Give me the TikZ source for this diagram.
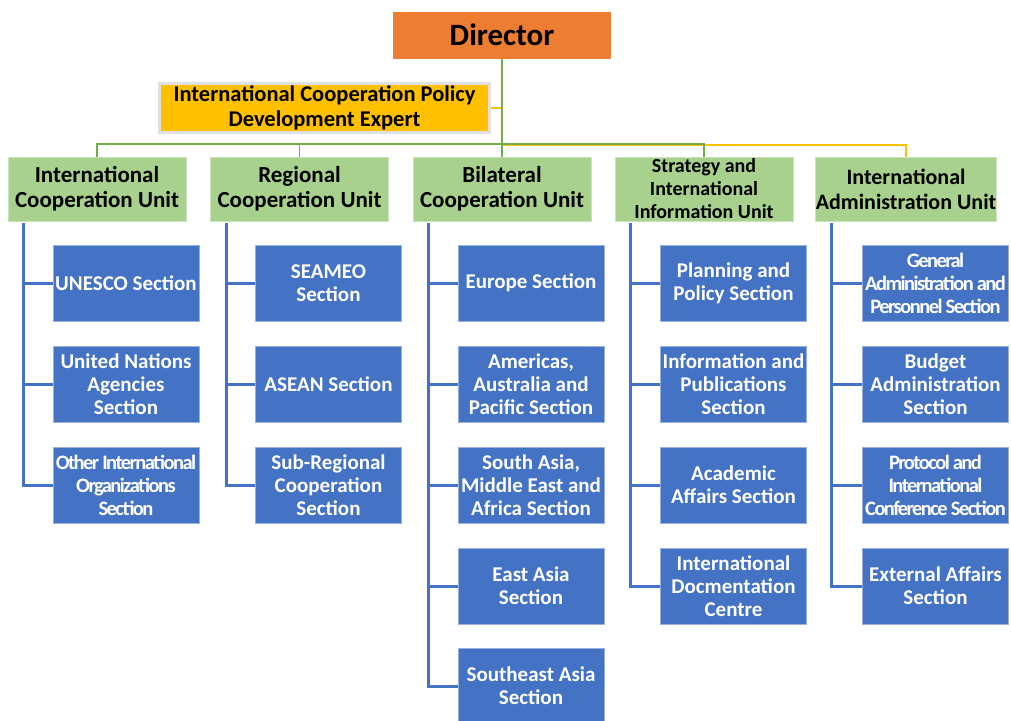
\documentclass[tikz,border=0pt]{standalone}
\usepackage{fontspec}
\setmainfont{Carlito}
\definecolor{dirorange}{HTML}{ED7D31}
\definecolor{expgold}{HTML}{FFC000}
\definecolor{unitgreen}{HTML}{A9D18E}
\definecolor{linegreen}{HTML}{70AD47}
\definecolor{sectblue}{HTML}{4472C4}
\begin{document}
\begin{tikzpicture}[x=1pt,y=-1pt,
dirbox/.style={fill=dirorange, minimum width=218pt, minimum height=47pt, inner sep=0pt, font=\fontsize{31}{33}\selectfont\bfseries},
expbox/.style={fill=expgold, draw=black!12, line width=3pt, minimum width=330pt, minimum height=49pt, inner sep=0pt, align=center, font=\fontsize{22.5}{25}\selectfont\bfseries},
unitbox/.style={fill=unitgreen, draw=unitgreen!60!white, line width=.8pt, minimum width=178pt, minimum height=64pt, inner sep=0pt, align=center, font=\fontsize{23}{25}\selectfont\bfseries},
sectbox/.style={fill=sectblue, draw=sectblue!55!white, line width=.8pt, text=white, minimum width=146pt, minimum height=76pt, inner sep=0pt, align=center, font=\fontsize{21}{23}\selectfont\bfseries},
squeezed/.style={font=\fontsize{20.5}{23}\selectfont\bfseries\addfontfeatures{LetterSpace=-7.5}},
greenline/.style={draw=linegreen, line width=1.8pt},
goldline/.style={draw=expgold, line width=2.2pt},
blueline/.style={draw=sectblue, line width=3pt}]
\useasboundingbox (0,0) rectangle (1011,720);
\node[dirbox] (dir) at (502,35) {Director};
\node[expbox] (exp) at (324.5,108) {International Cooperation Policy\\Development Expert};
\coordinate (hub) at (502,144);
\node[unitbox] (u1) at (97,189) {International\\Cooperation Unit};
\node[unitbox] (u2) at (299.5,189) {Regional\\Cooperation Unit};
\node[unitbox] (u3) at (502,189) {Bilateral\\Cooperation Unit};
\node[unitbox,font=\fontsize{20}{23}\selectfont\bfseries] (u4) at (704,189) {Strategy and\\International\\Information Unit};
\node[unitbox,font=\fontsize{22}{25}\selectfont\bfseries] (u5) at (906,189) {International\\Administration Unit};
\node[sectbox] (s11) at (126,283) {UNESCO Section};
\node[sectbox] (s12) at (126,384) {United Nations\\Agencies\\Section};
\node[sectbox,squeezed] (s13) at (126,485) {Other International\\Organizations\\Section};
\node[sectbox] (s21) at (328.5,283) {SEAMEO\\Section};
\node[sectbox] (s22) at (328.5,384) {ASEAN Section};
\node[sectbox] (s23) at (328.5,485) {Sub-Regional\\Cooperation\\Section};
\node[sectbox] (s31) at (531,283) {Europe Section};
\node[sectbox] (s32) at (531,384) {Americas,\\Australia and\\Pacific Section};
\node[sectbox] (s33) at (531,485) {South Asia,\\Middle East and\\Africa Section};
\node[sectbox] (s34) at (531,586) {East Asia\\Section};
\node[sectbox] (s35) at (531,686) {Southeast Asia\\Section};
\node[sectbox] (s41) at (733.5,283) {Planning and\\Policy Section};
\node[sectbox] (s42) at (733.5,384) {Information and\\Publications\\Section};
\node[sectbox] (s43) at (733.5,485) {Academic\\Affairs Section};
\node[sectbox] (s44) at (733.5,586) {International\\Docmentation\\Centre};
\node[sectbox,squeezed] (s51) at (935.5,283) {General\\Administration and\\Personnel Section};
\node[sectbox] (s52) at (935.5,384) {Budget\\Administration\\Section};
\node[sectbox,squeezed] (s53) at (935.5,485) {Protocol and\\International\\Conference Section};
\node[sectbox] (s54) at (935.5,586) {External Affairs\\Section};
\draw[goldline] (exp.east) -- (exp.east -| dir.south);
\draw[goldline] ([yshift=-1.2pt]hub) -| (u5.north);
\draw[greenline] (dir.south) -- (u3.north);
\draw[greenline] (u1.north) |- (hub) -| (u4.north);
\draw[greenline] (u2.north) -- (u2.north |- hub);
\foreach \c/\n in {1/3,2/3,3/5,4/4,5/4}{
  \draw[blueline] ([xshift=16pt,yshift=-2pt]u\c.south west) |- (s\c\n.west);
  \foreach \r in {1,...,\n} \draw[blueline] (s\c\r.west) -- ++(-29,0);
}
\end{tikzpicture}
\end{document}
